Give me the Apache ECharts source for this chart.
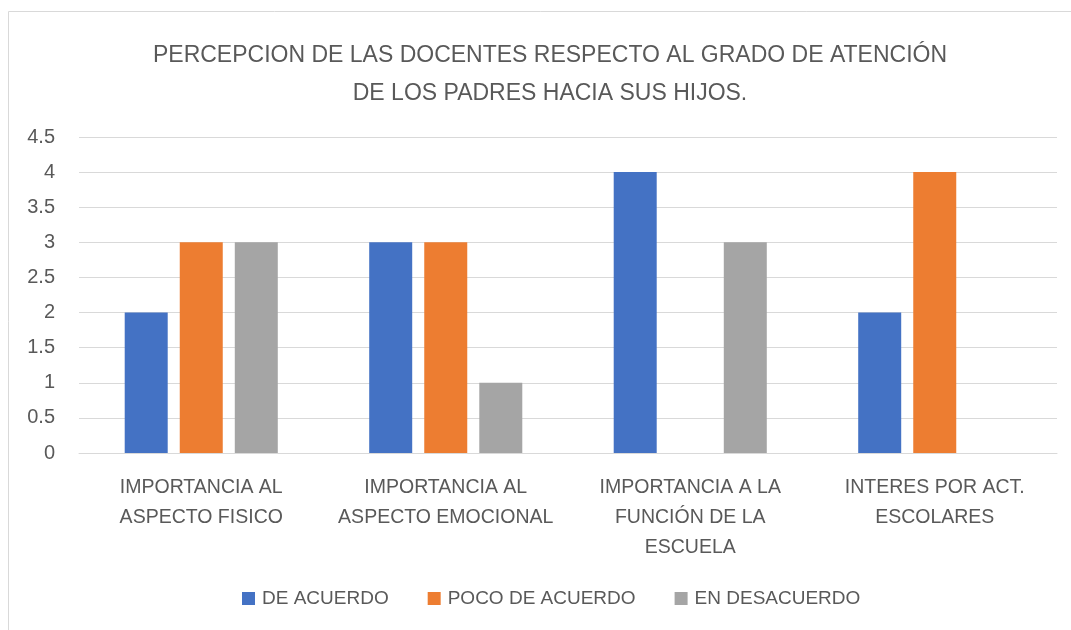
<!DOCTYPE html>
<html>
<head>
<meta charset="utf-8">
<script src="https://cdn.jsdelivr.net/npm/echarts@6/dist/echarts.min.js"></script>
<style>
html,body{margin:0;padding:0;background:#fff;}
#chart{width:1071px;height:630px;}
</style>
</head>
<body>
<div id="chart"></div>
<script>
const titleText = 'PERCEPCION DE LAS DOCENTES RESPECTO AL GRADO DE ATENCIÓN\nDE LOS PADRES HACIA SUS HIJOS.';
const categories = [
  'IMPORTANCIA AL\nASPECTO FISICO',
  'IMPORTANCIA AL\nASPECTO EMOCIONAL',
  'IMPORTANCIA A LA\nFUNCIÓN DE LA\nESCUELA',
  'INTERES POR ACT.\nESCOLARES'
];
const seriesNames = ['DE ACUERDO', 'POCO DE ACUERDO', 'EN DESACUERDO'];
const deAcuerdo = [2, 3, 4, 2];
const pocoDeAcuerdo = [3, 3, 0, 4];
const enDesacuerdo = [3, 1, 3, 0];
const colors = ['#4472C4', '#ED7D31', '#A5A5A5'];

const font = 'Liberation Sans';
const txt = '#595959';
const chart = echarts.init(document.getElementById('chart'), null, {renderer: 'canvas'});
chart.setOption({
  animation: false,
  color: colors,
  graphic: [{
    type: 'rect', silent: true,
    shape: {x: 8.5, y: 11.5, width: 1200, height: 800},
    style: {fill: 'none', stroke: '#D9D9D9', lineWidth: 1}
  }],
  title: {
    text: titleText,
    left: 545, top: 32, textAlign: 'center',
    textStyle: {fontFamily: font, fontSize: 23, fontWeight: 'normal', color: txt, lineHeight: 38}
  },
  legend: {
    data: seriesNames,
    left: 237, top: 584,
    itemWidth: 13, itemHeight: 13, itemGap: 39,
    icon: 'rect',
    textStyle: {fontFamily: font, fontSize: 19, color: txt, padding: [0, 0, 0, 2]}
  },
  grid: {left: 79, right: 14, top: 137, bottom: 177, containLabel: false},
  xAxis: {
    type: 'category', data: categories,
    axisLine: {lineStyle: {color: '#D9D9D9', width: 1}},
    axisTick: {show: false},
    axisLabel: {fontFamily: font, fontSize: 19.5, color: txt, lineHeight: 30, margin: 20, interval: 0}
  },
  yAxis: {
    type: 'value', min: 0, max: 4.5, interval: 0.5,
    axisLine: {show: false}, axisTick: {show: false},
    splitLine: {lineStyle: {color: '#D9D9D9', width: 1}},
    axisLabel: {fontFamily: font, fontSize: 20, color: txt, margin: 24}
  },
  series: [
    {name: seriesNames[0], type: 'bar', data: deAcuerdo, barWidth: 43, barGap: '28%'},
    {name: seriesNames[1], type: 'bar', data: pocoDeAcuerdo, barWidth: 43, barGap: '28%'},
    {name: seriesNames[2], type: 'bar', data: enDesacuerdo, barWidth: 43, barGap: '28%'}
  ]
});
</script>
</body>
</html>
